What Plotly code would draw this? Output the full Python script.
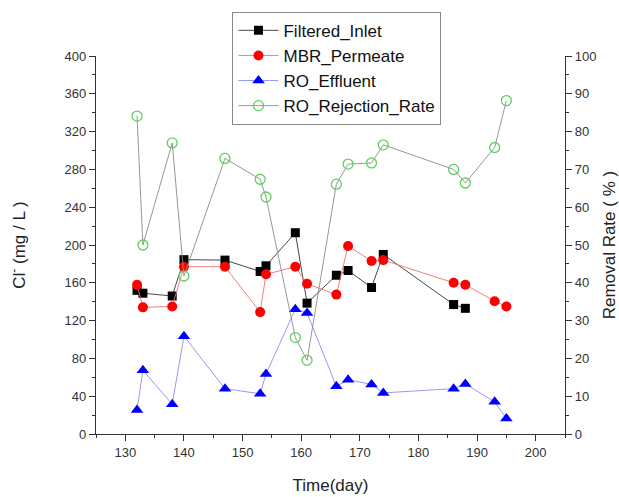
import plotly.graph_objects as go

# ---- data ----
days_inlet = [132, 133, 138, 140, 147, 153, 154, 159, 161, 166, 168, 172, 174, 186, 188]
filtered_inlet = [152, 149, 146, 184.5, 184, 172, 178, 213, 138.5, 168, 173, 155, 190, 137, 133]

days_mbr = [132, 133, 138, 140, 147, 153, 154, 159, 161, 166, 168, 172, 174, 186, 188, 193, 195]
mbr_permeate = [158, 134, 135, 177, 177, 129, 169, 177, 159, 147.5, 199, 183, 184, 160, 158, 140.5, 135]

days_ro = [132, 133, 138, 140, 147, 153, 154, 159, 161, 166, 168, 172, 174, 186, 188, 193, 195]
ro_effluent = [25.5, 67.5, 31.5, 103.5, 48, 42.5, 63.5, 132, 128, 50.5, 57.5, 52.5, 43.5, 48, 53, 34, 16.5]

days_rej = [132, 133, 138, 140, 147, 153, 154, 159, 161, 166, 168, 172, 174, 186, 188, 193, 195]
ro_rejection = [84.1, 50.0, 77.0, 41.8, 72.9, 67.4, 62.7, 25.5, 19.5, 66.1, 71.4, 71.7, 76.5, 70.0, 66.4, 75.8, 88.2]

x_ticks = [130, 140, 150, 160, 170, 180, 190, 200]

FONT = "Arial, Liberation Sans, sans-serif"
AX = "#333333"

fig = go.Figure()
fig.add_trace(go.Scatter(x=days_inlet, y=filtered_inlet, name="Filtered_Inlet",
                         mode="lines+markers",
                         line=dict(color="#333333", width=0.9),
                         marker=dict(symbol="square", size=9, color="#000000")))
fig.add_trace(go.Scatter(x=days_mbr, y=mbr_permeate, name="MBR_Permeate",
                         mode="lines+markers",
                         line=dict(color="#f07070", width=0.9),
                         marker=dict(symbol="circle", size=10, color="#ff0000")))
fig.add_trace(go.Scatter(x=days_ro, y=ro_effluent, name="RO_Effluent",
                         mode="lines+markers",
                         line=dict(color="#8c8cf0", width=0.9),
                         marker=dict(symbol="triangle-up", size=11, color="#0000ff")))
fig.add_trace(go.Scatter(x=days_rej, y=ro_rejection, name="RO_Rejection_Rate",
                         mode="lines+markers", yaxis="y2",
                         line=dict(color="#8a8a8a", width=0.9),
                         marker=dict(symbol="circle-open", size=10,
                                     line=dict(color="#5fcf5f", width=1.3),
                                     color="#5fcf5f")))

axis_common = dict(showgrid=False, zeroline=False, showline=True, linecolor=AX,
                   linewidth=1.3, ticks="outside", ticklen=6, tickwidth=1.2,
                   automargin=False,
                   tickcolor=AX, tickfont=dict(family=FONT, size=13, color="#333333"))

fig.update_layout(
    width=619, height=497,
    margin=dict(l=96, r=54, t=51, b=63),
    paper_bgcolor="white", plot_bgcolor="white",
    font=dict(family=FONT, color="#222222"),
    xaxis=dict(range=[125, 205], tickvals=x_ticks,
               minor=dict(ticks="outside", ticklen=3, dtick=5, tick0=125, tickcolor=AX, tickwidth=1),
               title=dict(text="Time(day)", font=dict(family=FONT, size=17, color="#222222"), standoff=20),
               **axis_common),
    yaxis=dict(range=[0, 400], dtick=40,
               minor=dict(ticks="outside", ticklen=3, dtick=20, tickcolor=AX, tickwidth=1),
               title=dict(text="Cl<sup>-</sup> (mg / L )", font=dict(family=FONT, size=17, color="#222222"), standoff=34),
               **axis_common),
    yaxis2=dict(range=[0, 100], dtick=10, overlaying="y", side="right",
                minor=dict(ticks="outside", ticklen=3, dtick=5, tickcolor=AX, tickwidth=1),
                title=dict(text="Removal Rate ( % )", font=dict(family=FONT, size=17, color="#222222"), standoff=9),
                **axis_common),
    legend=dict(x=0.291, y=1.117, xanchor="left", yanchor="top",
                bgcolor="white", bordercolor="#888888", borderwidth=1,
                font=dict(family=FONT, size=17, color="#111111"),
                tracegroupgap=0, itemwidth=40),
    showlegend=True,
)

fig.write_html("out.html")
